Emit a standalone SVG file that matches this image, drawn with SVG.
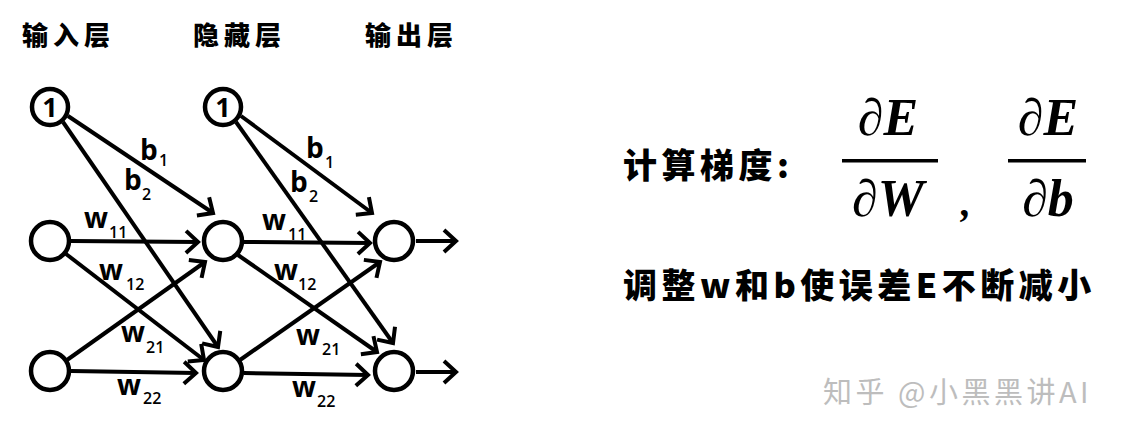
<svg xmlns="http://www.w3.org/2000/svg" width="1129" height="437" viewBox="0 0 1129 437">
<style>
.hdr{font-family:"Noto Sans CJK SC","Noto Sans",sans-serif;font-weight:900;font-size:26px;letter-spacing:5px;fill:#000}
.node{fill:#fff;stroke:#000;stroke-width:4.5}
.one{font-family:"Open Sans","Liberation Sans",sans-serif;font-weight:700;font-size:27px;fill:#000;text-anchor:middle}
.lbl{font-family:"Open Sans","Liberation Sans",sans-serif;font-weight:700;font-size:28px;fill:#000}
.sub{font-family:"Open Sans","Liberation Sans",sans-serif;font-weight:600;font-size:16px;fill:#000}
.conn path{stroke:#000;stroke-width:4;fill:none;marker-end:url(#arr)}
.big{font-family:"Noto Sans CJK SC","Noto Sans",sans-serif;font-weight:900;font-size:34px;letter-spacing:4.5px;fill:#000}
.math{font-family:"Liberation Serif","DejaVu Serif",serif;font-weight:700;font-style:italic;font-size:52px;fill:#000;text-anchor:middle}
.wm{font-family:"Noto Sans CJK SC","Noto Sans",sans-serif;font-size:29px;letter-spacing:3.5px;fill:#bdbdbd}
</style>
<defs>
<marker id="arr" markerUnits="userSpaceOnUse" viewBox="-16 -14 20 28" refX="0" refY="0" markerWidth="20" markerHeight="28" orient="auto" overflow="visible">
<path d="M-12,-11 L0,0 L-12,11" fill="none" stroke="#000" stroke-width="4" stroke-linejoin="miter"/>
</marker>
</defs>
<rect width="1129" height="437" fill="#fff"/>
<g id="headers">
<text class="hdr" x="22" y="45">输入层</text>
<text class="hdr" x="193" y="45">隐藏层</text>
<text class="hdr" x="365" y="45">输出层</text>
</g>
<g id="connectors" class="conn">
<path d="M71,241 L198,242"/>
<path d="M66,254 L204,360"/>
<path d="M67,360 L205,262"/>
<path d="M71,371 L196,373"/>
<path d="M68,116 L213,213"/>
<path d="M63,122 L218,347"/>
<path d="M244,242 L370,243"/>
<path d="M238,255 L377,352"/>
<path d="M240,360 L380,262"/>
<path d="M244,373 L368,375"/>
<path d="M241,116 L372,213"/>
<path d="M236,122 L393,343"/>
<path d="M416,241 L456,241"/>
<path d="M416,372 L456,372"/>
</g>
<g id="node-in-bias"><circle class="node" cx="50" cy="107" r="18"/><text class="one" x="50" y="117">1</text></g>
<g id="node-in-1"><circle class="node" cx="50" cy="241" r="19"/></g>
<g id="node-in-2"><circle class="node" cx="50" cy="371" r="19"/></g>
<g id="node-hid-bias"><circle class="node" cx="223" cy="107" r="18"/><text class="one" x="223" y="117">1</text></g>
<g id="node-hid-1"><circle class="node" cx="223" cy="241" r="19"/></g>
<g id="node-hid-2"><circle class="node" cx="223" cy="371" r="19"/></g>
<g id="node-out-1"><circle class="node" cx="394" cy="241" r="19"/></g>
<g id="node-out-2"><circle class="node" cx="394" cy="371" r="19"/></g>
<g id="labels">
<text class="lbl" x="140" y="160">b</text><text class="sub" x="159" y="166">1</text>
<text class="lbl" x="124" y="190">b</text><text class="sub" x="142" y="200">2</text>
<text class="lbl" x="84" y="228">w</text><text class="sub" x="109" y="238">11</text>
<text class="lbl" x="99" y="280">w</text><text class="sub" x="126" y="290">12</text>
<text class="lbl" x="121" y="342">w</text><text class="sub" x="146" y="353">21</text>
<text class="lbl" x="117" y="395">w</text><text class="sub" x="143" y="404">22</text>
<text class="lbl" x="306" y="158">b</text><text class="sub" x="325" y="168">1</text>
<text class="lbl" x="290" y="192">b</text><text class="sub" x="309" y="202">2</text>
<text class="lbl" x="262" y="230">w</text><text class="sub" x="288" y="240">11</text>
<text class="lbl" x="274" y="280">w</text><text class="sub" x="298" y="290">12</text>
<text class="lbl" x="296" y="345">w</text><text class="sub" x="322" y="355">21</text>
<text class="lbl" x="292" y="397">w</text><text class="sub" x="317" y="407">22</text>
</g>
<g id="formula">
<text class="big" x="623" y="178">计算梯度:</text>
<text class="math" x="888" y="135">∂E</text>
<rect x="842" y="159" width="96" height="3.5" fill="#000"/>
<text class="math" x="888" y="216">∂W</text>
<text class="math" x="966" y="216" style="font-size:40px">,</text>
<text class="math" x="1048" y="135">∂E</text>
<rect x="1008" y="159" width="78" height="3.5" fill="#000"/>
<text class="math" x="1048" y="216">∂b</text>
<text class="big" x="623" y="298">调整w和b使误差E不断减小</text>
</g>
<g id="watermark">
<text class="wm" x="823" y="403">知乎 @小黑黑讲AI</text>
</g>
</svg>
